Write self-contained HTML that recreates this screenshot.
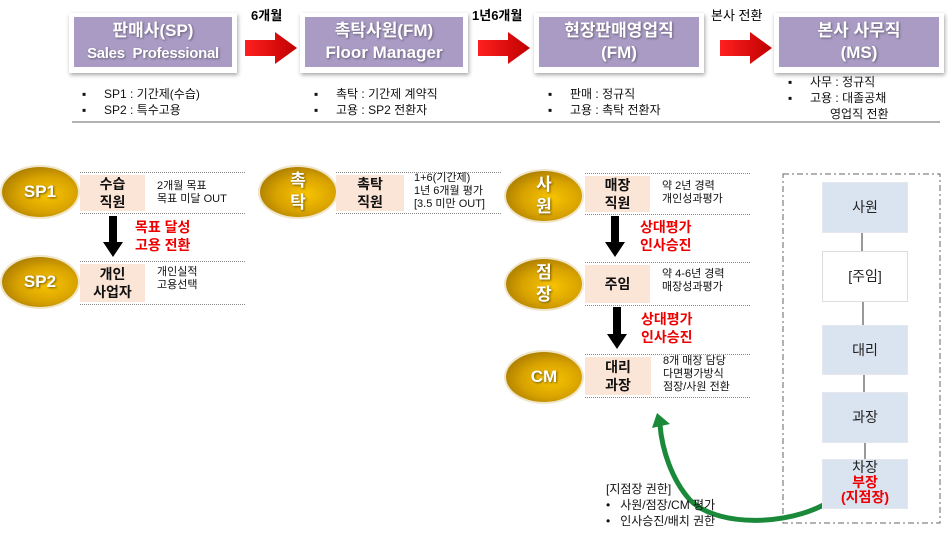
<!DOCTYPE html>
<html><head><meta charset="utf-8"><style>
body{margin:0;width:948px;height:534px;background:#fff;position:relative;overflow:hidden;font-family:"Liberation Sans","Noto Sans CJK KR",sans-serif;}
.a{position:absolute}
.pb{position:absolute;background:#fff;box-shadow:1px 2px 4px rgba(0,0,0,.35);}
.pb div{position:absolute;left:5px;right:5px;top:4px;bottom:6px;background:#a99bc4;color:#fff;font-weight:bold;text-align:center;font-size:17px;line-height:22px;padding-top:3px;white-space:nowrap;text-shadow:1px 1px 2px rgba(0,0,0,.4)}
.bl{position:absolute;font-size:12px;line-height:16px;color:#111}
.bl span{display:inline-block;width:22px}
.ell{position:absolute;border-radius:50%;background:radial-gradient(ellipse at 60% 55%,#f8c400 0%,#d9a300 45%,#8a6200 100%);box-shadow:0 0 0 2px #efe6c9;color:#fff;font-weight:bold;text-align:center;text-shadow:1px 1px 2px rgba(0,0,0,.5)}
.row{position:absolute;border-top:1px dotted #888;border-bottom:1px dotted #888}
.row .c{position:absolute;left:0;top:2px;bottom:2px;background:#fbe5d6;font-size:14px;font-weight:bold;text-align:center;color:#111;display:flex;align-items:center;justify-content:center;line-height:18px}
.row .t{position:absolute;font-size:11px;line-height:13px;color:#111}
.red{position:absolute;color:#e00;font-weight:bold;font-size:14px;line-height:18px}
.gb{position:absolute;left:822px;width:84px;background:#dae3f0;border:1px solid #e4e8ee;font-size:14px;text-align:center;color:#222}
</style></head><body>
<div class="pb" style="left:69px;top:13px;width:168px;height:60px"><div>판매사(SP)<br><span style="font-size:15px;letter-spacing:-0.3px">Sales&nbsp; Professional</span></div></div>
<div class="pb" style="left:300px;top:13px;width:168px;height:60px"><div>촉탁사원(FM)<br>Floor Manager</div></div>
<div class="pb" style="left:534px;top:13px;width:170px;height:60px"><div>현장판매영업직<br>(FM)</div></div>
<div class="pb" style="left:774px;top:13px;width:170px;height:60px"><div>본사 사무직<br>(MS)</div></div>
<svg class="a" style="left:0;top:0" width="948" height="534">
<defs><linearGradient id="rg" x1="0" x2="1"><stop offset="0" stop-color="#ff2020"/><stop offset="1" stop-color="#c00000"/></linearGradient></defs>
<g fill="url(#rg)">
<path d="M245,40h30v-8l22,16l-22,16v-8h-30z"/>
<path d="M478,40h30v-8l22,16l-22,16v-8h-30z"/>
<path d="M720,40h30v-8l22,16l-22,16v-8h-30z"/>
</g>
<line x1="72" y1="122" x2="940" y2="122" stroke="#999" stroke-width="1.5"/>
<g fill="#000">
<path d="M109,216h8v26h6l-10,15l-10,-15h6z"/>
<path d="M611,216h8v26h6l-10,15l-10,-15h6z"/>
<path d="M613,307h8v27h6l-10,15l-10,-15h6z"/>
</g>
<rect x="783" y="174" width="157" height="349" fill="none" stroke="#666" stroke-dasharray="6,3,2,3"/>
<g stroke="#333"><line x1="862" y1="232" x2="862" y2="251"/><line x1="863" y1="301" x2="863" y2="325"/><line x1="864" y1="373" x2="864" y2="392"/><line x1="865" y1="441" x2="865" y2="459"/></g>
<path d="M836,497 C800,525 720,530 690,500 C672,480 662,450 660,425" fill="none" stroke="#1a8a3a" stroke-width="5"/>
<path d="M652,428 L657,413 L670,424 z" fill="#1a8a3a"/>
</svg>
<div class="a" style="left:251px;top:5px;font-weight:bold;font-size:13px">6개월</div>
<div class="a" style="left:472px;top:5px;font-weight:bold;font-size:13px">1년6개월</div>
<div class="a" style="left:711px;top:5px;font-size:13px">본사 전환</div>
<div class="bl" style="left:82px;top:86px"><span>▪</span>SP1 : 기간제(수습)<br><span>▪</span>SP2 : 특수고용</div>
<div class="bl" style="left:314px;top:86px"><span>▪</span>촉탁 : 기간제 계약직<br><span>▪</span>고용 : SP2 전환자</div>
<div class="bl" style="left:548px;top:86px"><span>▪</span>판매 : 정규직<br><span>▪</span>고용 : 촉탁 전환자</div>
<div class="bl" style="left:788px;top:74px"><span>▪</span>사무 : 정규직<br><span>▪</span>고용 : 대졸공채<br><span></span>&nbsp;&nbsp;&nbsp;&nbsp;&nbsp;&nbsp;영업직 전환</div>

<div class="ell" style="left:2px;top:167px;width:76px;height:50px;font-size:17px;line-height:50px">SP1</div>
<div class="ell" style="left:2px;top:257px;width:76px;height:50px;font-size:17px;line-height:50px">SP2</div>
<div class="ell" style="left:260px;top:167px;width:76px;height:50px;font-size:17px;line-height:22px;padding-top:3px;box-sizing:border-box">촉<br>탁</div>
<div class="ell" style="left:506px;top:171px;width:76px;height:50px;font-size:17px;line-height:22px;padding-top:3px;box-sizing:border-box">사<br>원</div>
<div class="ell" style="left:506px;top:259px;width:76px;height:50px;font-size:17px;line-height:22px;padding-top:3px;box-sizing:border-box">점<br>장</div>
<div class="ell" style="left:506px;top:352px;width:76px;height:50px;font-size:17px;line-height:50px">CM</div>

<div class="row" style="left:80px;top:172px;width:165px;height:40px"><div class="c" style="width:65px">수습<br>직원</div><div class="t" style="left:77px;top:7px">2개월 목표<br>목표 미달 OUT</div></div>
<div class="row" style="left:80px;top:261px;width:165px;height:42px"><div class="c" style="width:65px">개인<br>사업자</div><div class="t" style="left:77px;top:4px">개인실적<br>고용선택</div></div>
<div class="row" style="left:336px;top:172px;width:165px;height:40px"><div class="c" style="width:68px">촉탁<br>직원</div><div class="t" style="left:78px;top:-1px">1+6(기간제)<br>1년 6개월 평가<br>[3.5 미만 OUT]</div></div>
<div class="row" style="left:585px;top:173px;width:165px;height:40px"><div class="c" style="width:65px">매장<br>직원</div><div class="t" style="left:77px;top:6px">약 2년 경력<br>개인성과평가</div></div>
<div class="row" style="left:585px;top:262px;width:165px;height:42px"><div class="c" style="width:65px">주임</div><div class="t" style="left:77px;top:5px">약 4-6년 경력<br>매장성과평가</div></div>
<div class="row" style="left:585px;top:354px;width:165px;height:42px"><div class="c" style="width:66px">대리<br>과장</div><div class="t" style="left:78px;top:0px">8개 매장 담당<br>다면평가방식<br>점장/사원 전환</div></div>

<div class="red" style="left:135px;top:218px">목표 달성<br>고용 전환</div>
<div class="red" style="left:640px;top:218px">상대평가<br>인사승진</div>
<div class="red" style="left:641px;top:310px">상대평가<br>인사승진</div>

<div class="gb" style="top:182px;height:49px;line-height:49px">사원</div>
<div class="gb" style="top:251px;height:49px;line-height:49px;background:#fff;border-color:#ddd">[주임]</div>
<div class="gb" style="top:325px;height:48px;line-height:48px">대리</div>
<div class="gb" style="top:392px;height:49px;line-height:49px">과장</div>
<div class="gb" style="top:459px;height:48px;line-height:15px;padding-top:0">차장<br><b style="color:#e00">부장<br>(지점장)</b></div>

<div class="a" style="left:606px;top:481px;font-size:12px;line-height:16px;color:#111">[지점장 권한]<br>•&nbsp;&nbsp; 사원/점장/CM 평가<br>•&nbsp;&nbsp; 인사승진/배치 권한</div>
</body></html>
